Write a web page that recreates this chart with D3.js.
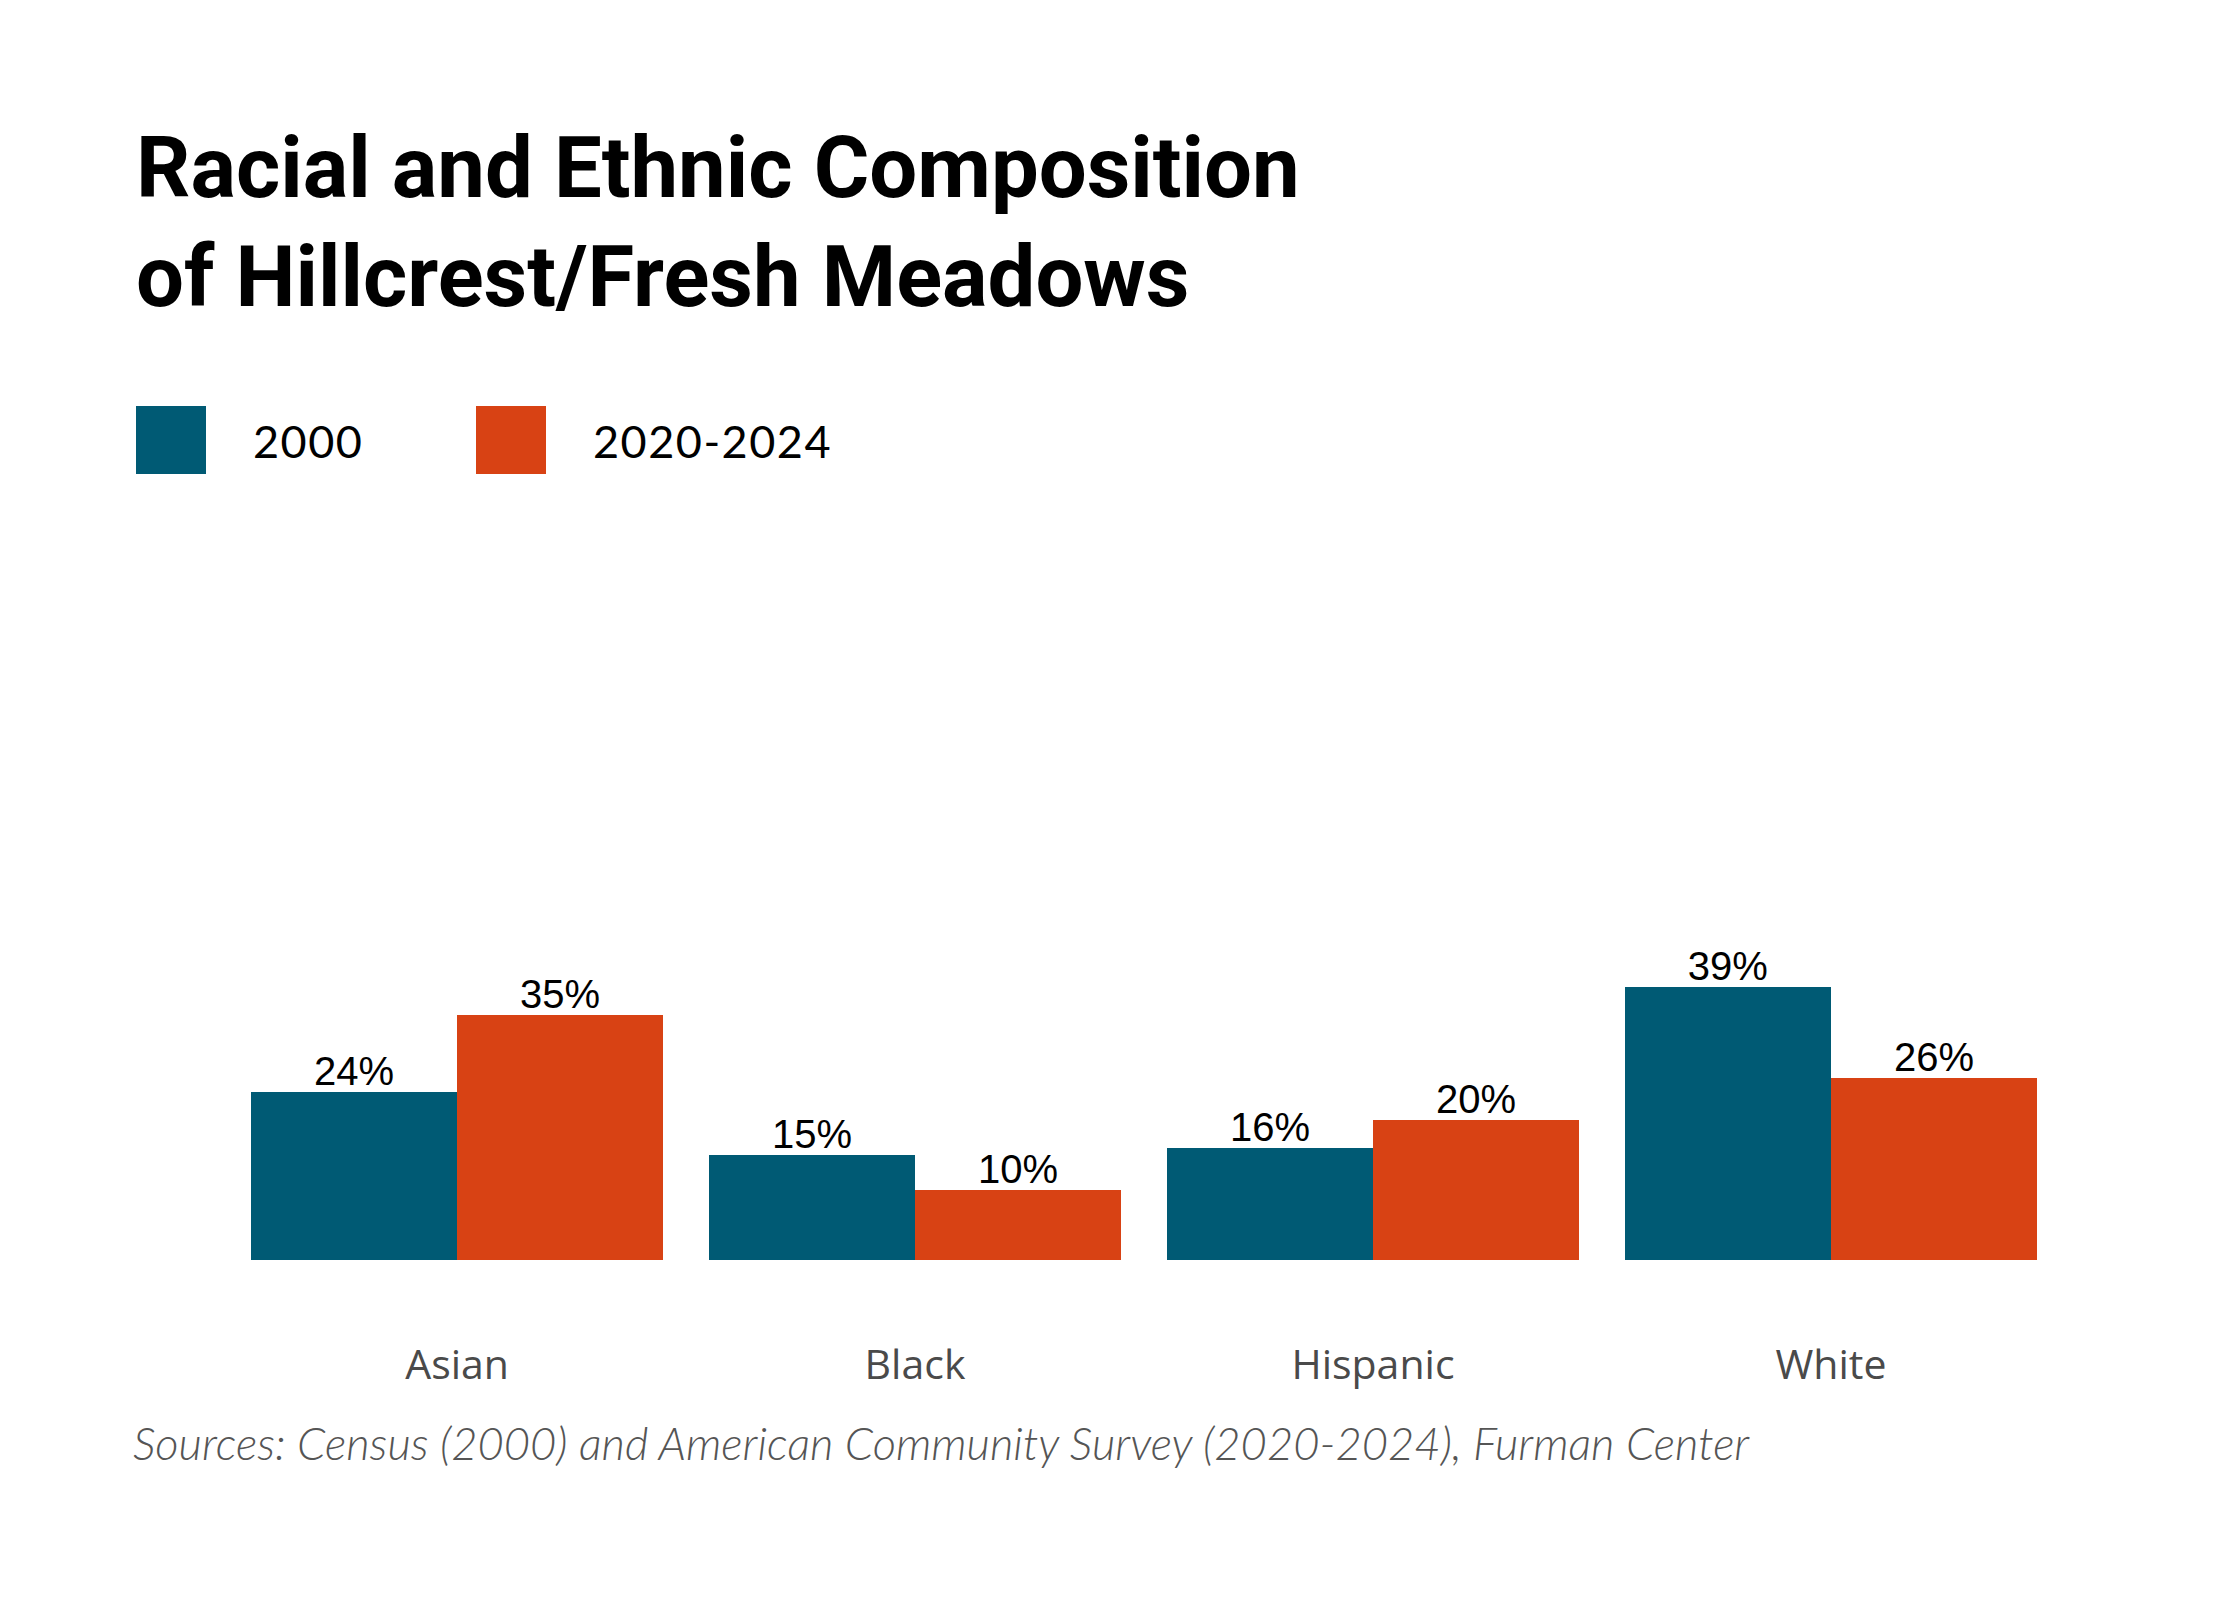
<!DOCTYPE html>
<html>
<head>
<meta charset="utf-8">
<script src="https://cdn.jsdelivr.net/npm/d3@7"></script>
<style>
  html, body { margin: 0; padding: 0; background: #fff; }
</style>
</head>
<body>
<script>
// data
var categories = ["Asian", "Black", "Hispanic", "White"];
var series = ["2000", "2020-2024"];
var values2000 = [24, 15, 16, 39];
var values2020 = [35, 10, 20, 26];
var colors = ["#005a74", "#d84214"];
var titleLines = ["Racial and Ethnic Composition", "of Hillcrest/Fresh Meadows"];
var sourceText = "Sources: Census (2000) and American Community Survey (2020-2024), Furman Center";

var width = 2240, height = 1600;

var svg = d3.select("body").append("svg")
  .attr("width", width)
  .attr("height", height)
  .attr("viewBox", [0, 0, width, height]);

svg.append("rect").attr("width", width).attr("height", height).attr("fill", "#fff");

//// titulo ////
svg.append("g")
  .selectAll("text")
  .data(titleLines)
  .join("text")
  .attr("x", 136)
  .attr("y", (d, i) => 197 + i * 109)
  .attr("font-family", "Roboto, sans-serif")
  .attr("font-weight", 700)
  .attr("font-size", 85)
  .attr("fill", "#000")
  .text(d => d);

//// leyenda ////
var legend = svg.append("g")
  .selectAll("g")
  .data(series)
  .join("g")
  .attr("transform", (d, i) => `translate(${136 + i * 340},406)`);

legend.append("rect")
  .attr("width", 70)
  .attr("height", 68)
  .attr("fill", (d, i) => colors[i]);

legend.append("text")
  .attr("x", 117)
  .attr("y", 52)
  .attr("font-family", "Lato, sans-serif")
  .attr("font-size", 45)
  .attr("letter-spacing", 1.5)
  .attr("fill", "#000")
  .text(d => d);

//// escalas ////
var x0 = d3.scaleBand()
  .domain(categories)
  .range([251, 2037])
  .paddingInner(0.1)
  .paddingOuter(0);

var x1 = d3.scaleBand()
  .domain(series)
  .range([0, x0.bandwidth()]);

var y = d3.scaleLinear()
  .domain([0, 100])
  .range([1260, 560]);

var rows = categories.map((c, i) => ({
  cat: c,
  vals: [
    { key: series[0], v: values2000[i], color: colors[0] },
    { key: series[1], v: values2020[i], color: colors[1] }
  ]
}));

var group = svg.append("g")
  .selectAll("g")
  .data(rows)
  .join("g")
  .attr("transform", d => `translate(${x0(d.cat)},0)`);

group.selectAll("rect")
  .data(d => d.vals)
  .join("rect")
  .attr("x", d => x1(d.key))
  .attr("y", d => y(d.v))
  .attr("width", x1.bandwidth())
  .attr("height", d => y(0) - y(d.v))
  .attr("fill", d => d.color)
  .attr("shape-rendering", "crispEdges");

group.selectAll("text.val")
  .data(d => d.vals)
  .join("text")
  .attr("class", "val")
  .attr("x", d => x1(d.key) + x1.bandwidth() / 2)
  .attr("y", d => y(d.v) - 7)
  .attr("text-anchor", "middle")
  .attr("font-family", "'Liberation Sans', Arial, sans-serif")
  .attr("font-size", 40)
  .attr("fill", "#000")
  .text(d => d.v + "%");

//// eje x ////
var xAxis = svg.append("g")
  .attr("transform", "translate(0,1260)")
  .call(d3.axisBottom(x0).tickSize(0).tickPadding(0));

xAxis.select(".domain").remove();
xAxis.selectAll("text")
  .attr("dy", 0)
  .attr("y", 119)
  .attr("font-family", "'Open Sans', sans-serif")
  .attr("font-size", 41)
  .attr("fill", "#4a4a4a");

//// fuente ////
svg.append("text")
  .attr("x", 133)
  .attr("y", 1460)
  .attr("font-family", "Lato, sans-serif")
  .attr("font-style", "italic")
  .attr("font-weight", 300)
  .attr("font-size", 45.3)
  .attr("fill", "#555")
  .text(sourceText);
</script>
</body>
</html>
